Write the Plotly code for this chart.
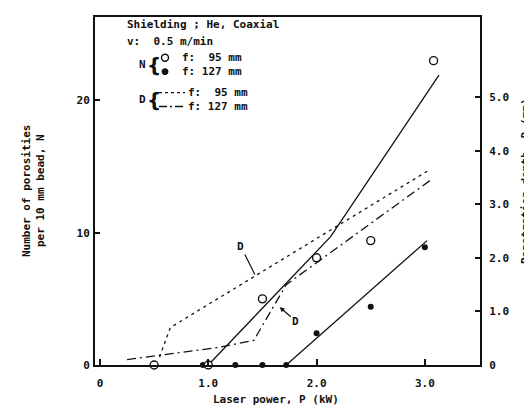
import plotly.graph_objects as go

# ---------------- data ----------------
power_open = [0.5, 1.0, 1.5, 2.0, 2.5, 3.08]          # f: 95 mm, N (open circles)
porosity_open = [0, 0, 5.0, 8.1, 9.4, 23.0]
power_filled = [0.95, 1.25, 1.5, 1.72, 2.0, 2.5, 3.0]  # f: 127 mm, N (filled)
porosity_filled = [0, 0, 0, 0, 2.4, 4.4, 8.9]

fit_open_x = [1.0, 2.13, 3.13]
fit_open_y = [0, 9.7, 21.9]
fit_filled_x = [1.72, 3.02]
fit_filled_y = [0, 9.4]

depth95_x = [0.55, 0.65, 3.03]                          # D, f: 95 mm (dashed)
depth95_y = [0.15, 0.70, 3.63]
depth127_x = [0.25, 1.1, 1.42, 1.72, 3.05]              # D, f: 127 mm (dash-dot)
depth127_y = [0.1, 0.33, 0.46, 1.5, 3.45]

x_ticks = [0, 1, 2, 3]
x_ticklabels = ["0", "1.0", "2.0", "3.0"]
n_ticks = [0, 10, 20]
n_ticklabels = ["0", "10", "20"]
d_ticks = [0, 1, 2, 3, 4, 5]
d_ticklabels = ["0", "1.0", "2.0", "3.0", "4.0", "5.0"]

INK = "#111111"
FONT = dict(family="DejaVu Sans Mono", size=11, color=INK, weight="bold")
NB = "\u00a0"

fig = go.Figure()

# fitted lines
fig.add_trace(go.Scatter(x=fit_open_x, y=fit_open_y, mode="lines",
                         line=dict(color=INK, width=1.3), yaxis="y", showlegend=False))
fig.add_trace(go.Scatter(x=fit_filled_x, y=fit_filled_y, mode="lines",
                         line=dict(color=INK, width=1.3), yaxis="y", showlegend=False))
# penetration depth lines
fig.add_trace(go.Scatter(x=depth95_x, y=depth95_y, mode="lines",
                         line=dict(color=INK, width=1.3, dash="3px,4px"),
                         yaxis="y2", showlegend=False))
fig.add_trace(go.Scatter(x=depth127_x, y=depth127_y, mode="lines",
                         line=dict(color=INK, width=1.3, dash="9px,4px,2px,4px"),
                         yaxis="y2", showlegend=False))
# data points
fig.add_trace(go.Scatter(x=power_filled, y=porosity_filled, mode="markers",
                         marker=dict(symbol="circle", size=6, color=INK),
                         cliponaxis=False, yaxis="y", showlegend=False))
fig.add_trace(go.Scatter(x=power_open, y=porosity_open, mode="markers",
                         marker=dict(symbol="circle", size=8, color="white",
                                     line=dict(color=INK, width=1.4)),
                         cliponaxis=False, yaxis="y", showlegend=False))

# ------------- layout -------------
L, R, T, B = 87, 60, 7, 48
W, H = 532, 405
PW, PH = W - L - R, H - T - B


def px(xp):
    return (xp - L) / PW


def py(yp):
    return (H - B - yp) / PH


fig.update_layout(
    width=W, height=H,
    margin=dict(l=L, r=R, t=T, b=B),
    plot_bgcolor="white", paper_bgcolor="white",
    font=FONT,
    xaxis=dict(range=[-0.046, 3.509], tickvals=x_ticks, ticktext=x_ticklabels,
               ticks="inside", ticklen=6, tickwidth=1.5, tickcolor=INK,
               showline=True, linewidth=2, linecolor=INK, mirror=True,
               showgrid=False, zeroline=False, ticklabelstandoff=7,
               tickfont=FONT),
    yaxis=dict(range=[0, 26.3], tickvals=n_ticks, ticktext=n_ticklabels,
               ticks="inside", ticklen=5, tickwidth=1.5, tickcolor=INK,
               showline=True, linewidth=2, linecolor=INK,
               showgrid=False, zeroline=False, ticklabelstandoff=1,
               tickfont=FONT),
    yaxis2=dict(range=[0, 6.5], tickvals=d_ticks, ticktext=d_ticklabels,
                overlaying="y", side="right",
                ticks="inside", ticklen=5, tickwidth=1.5, tickcolor=INK,
                showline=True, linewidth=2, linecolor=INK,
                showgrid=False, zeroline=False, ticklabelstandoff=5,
                tickfont=FONT),
)

ann = []
# axis titles
ann.append(dict(text="Number of porosities<br>per 10 mm bead, N", x=px(25), y=0.5,
                xref="paper", yref="paper", textangle=-90, showarrow=False,
                xanchor="center", yanchor="middle", font=FONT))
ann.append(dict(text="Penetration depth, D (mm)", x=px(517), y=py(172),
                xref="paper", yref="paper", textangle=-90, showarrow=False,
                xanchor="center", yanchor="middle", font=FONT))
ann.append(dict(text="Laser power, P (kW)", x=px(268), y=py(392),
                xref="paper", yref="paper", showarrow=False,
                xanchor="center", yanchor="middle", font=FONT))

# in-plot labels with pointers
ann.append(dict(text="D", x=1.43, y=1.69, xref="x", yref="y2",
                ax=-14, ay=-28, showarrow=True, arrowhead=0, arrowwidth=1.2,
                arrowcolor=INK, font=FONT))
ann.append(dict(text="D", x=1.66, y=1.08, xref="x", yref="y2",
                ax=16, ay=14, showarrow=True, arrowhead=2, arrowsize=0.8,
                arrowwidth=1.2, arrowcolor=INK, font=FONT))

# key block
ann.append(dict(text="Shielding" + NB + ";" + NB + "He," + NB + "Coaxial", x=px(117), y=py(15),
                xref="paper", yref="paper", showarrow=False, xanchor="left",
                yanchor="middle", font=FONT))
ann.append(dict(text="v:" + NB * 2 + "0.5" + NB + "m/min", x=px(117), y=py(32),
                xref="paper", yref="paper", showarrow=False, xanchor="left",
                yanchor="middle", font=FONT))
ann.append(dict(text="N", x=px(134), y=py(55), xref="paper", yref="paper",
                showarrow=False, xanchor="center", yanchor="middle", font=FONT))
ann.append(dict(text="D", x=px(134), y=py(90), xref="paper", yref="paper",
                showarrow=False, xanchor="center", yanchor="middle", font=FONT))
for yy in (55, 90):
    ann.append(dict(text="{", x=px(146), y=py(yy), xref="paper", yref="paper",
                    showarrow=False, xanchor="center", yanchor="middle",
                    font=dict(family="DejaVu Sans", size=20, color=INK)))
key_rows = [("f:" + NB * 2 + "95" + NB + "mm", 172, 48),
            ("f:" + NB + "127" + NB + "mm", 172, 62),
            ("f:" + NB * 2 + "95" + NB + "mm", 178, 83),
            ("f:" + NB + "127" + NB + "mm", 178, 97)]
for txt, xx, yy in key_rows:
    ann.append(dict(text=txt, x=px(xx), y=py(yy), xref="paper", yref="paper",
                    showarrow=False, xanchor="left", yanchor="middle", font=FONT))

shapes = [
    dict(type="circle", xref="paper", yref="paper", xsizemode="pixel", ysizemode="pixel",
         xanchor=px(157), yanchor=py(48), x0=-3.5, x1=3.5, y0=-3.5, y1=3.5,
         line=dict(color=INK, width=1.4), fillcolor="white"),
    dict(type="circle", xref="paper", yref="paper", xsizemode="pixel", ysizemode="pixel",
         xanchor=px(157), yanchor=py(62), x0=-3, x1=3, y0=-3, y1=3,
         line=dict(color=INK, width=1), fillcolor=INK),
    dict(type="line", xref="paper", yref="paper", x0=px(151), x1=px(177),
         y0=py(83), y1=py(83), line=dict(color=INK, width=1.3, dash="3px,3px")),
    dict(type="line", xref="paper", yref="paper", x0=px(151), x1=px(177),
         y0=py(97), y1=py(97), line=dict(color=INK, width=1.3, dash="8px,3px,2px,3px")),
]

fig.update_layout(annotations=ann, shapes=shapes)
fig.write_html("out.html")
